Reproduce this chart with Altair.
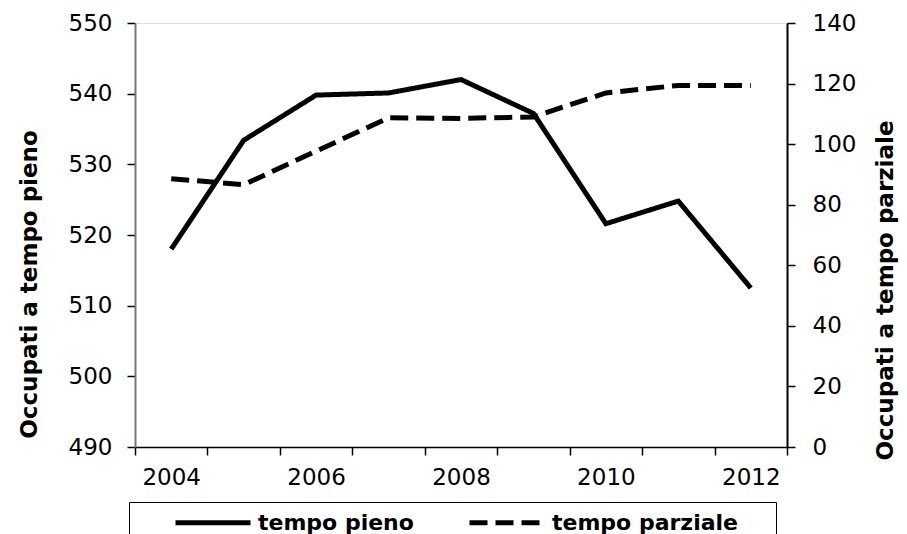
import altair as alt
import pandas as pd

years = ["2004", "2005", "2006", "2007", "2008", "2009", "2010", "2011", "2012"]
tempo_pieno = [518.0, 533.4, 539.8, 540.1, 542.0, 537.2, 521.6, 524.8, 512.5]
tempo_parziale = [88.6, 86.6, 97.7, 108.7, 108.5, 109.0, 116.9, 119.4, 119.4]
series_names = ["tempo pieno", "tempo parziale"]

df_pieno = pd.DataFrame({"year": years, "value": tempo_pieno, "serie": series_names[0]})
df_parz = pd.DataFrame({"year": years, "value": tempo_parziale, "serie": series_names[1]})

FONT = "DejaVu Sans"

x_enc = alt.X(
    "year:O",
    sort=years,
    scale=alt.Scale(paddingInner=0, paddingOuter=0),
    axis=alt.Axis(
        title=None,
        tickBand="extent",
        labelExpr="toNumber(datum.value) % 2 == 0 ? datum.value : ''",
        labelAngle=0,
        labelFontSize=23,
        labelFont=FONT,
        labelColor="black",
        labelPadding=11,
        tickSize=8,
        tickColor="black",
        tickWidth=1.5,
        domainColor="black",
        domainWidth=1.5,
    ),
)

dash_scale = alt.Scale(domain=series_names, range=[[1, 0], [18, 8]])

legend = alt.Legend(
    title=" ",
    titleOrient="right",
    titlePadding=30,
    titleFontSize=22,
    orient="none",
    legendX=-6,
    legendY=479,
    direction="horizontal",
    symbolType="M2.6,0L10.1,0",
    symbolSize=400,
    symbolStrokeWidth=5,
    symbolStrokeColor="black",
    labelFont=FONT,
    labelFontSize=22,
    labelFontWeight="bold",
    labelColor="black",
    labelOffset=96,
    labelLimit=400,
    columnPadding=17,
    padding=8,
    strokeColor="black",
    fillColor="white",
)

pieno = alt.Chart(df_pieno).mark_line(strokeWidth=5, color="black").encode(
    x=x_enc,
    y=alt.Y(
        "value:Q",
        scale=alt.Scale(domain=[490, 550], nice=False, zero=False),
        axis=alt.Axis(
            title="Occupati a tempo pieno",
            values=[490, 500, 510, 520, 530, 540, 550],
            orient="left",
            grid=False,
            labelFontSize=23,
            labelFont=FONT,
            labelColor="black",
            labelPadding=15,
            tickSize=8,
            tickColor="black",
            tickWidth=1.5,
            domainColor="#777777",
            domainWidth=2,
            titleFont=FONT,
            titleFontSize=23,
            titleFontWeight="bold",
            titleColor="black",
            titleAngle=270,
            titleAlign="center",
            titleBaseline="alphabetic",
            titleX=-99,
            titleY=261,
        ),
    ),
    strokeDash=alt.StrokeDash("serie:N", scale=dash_scale, legend=legend),
)

parz = alt.Chart(df_parz).mark_line(strokeWidth=5, color="black").encode(
    x=x_enc,
    y=alt.Y(
        "value:Q",
        scale=alt.Scale(domain=[0, 140], nice=False),
        axis=alt.Axis(
            title="Occupati a tempo parziale",
            values=[0, 20, 40, 60, 80, 100, 120, 140],
            orient="right",
            grid=False,
            labelFontSize=23,
            labelFont=FONT,
            labelColor="black",
            labelPadding=17,
            tickSize=8,
            tickColor="black",
            tickWidth=1.5,
            domainColor="black",
            domainWidth=2,
            titleFont=FONT,
            titleFontSize=23,
            titleFontWeight="bold",
            titleColor="black",
            titleAngle=270,
            titleAlign="center",
            titleBaseline="alphabetic",
            titleX=105,
            titleY=267,
        ),
    ),
    strokeDash=alt.StrokeDash("serie:N", scale=dash_scale, legend=legend),
)

chart = (
    alt.layer(pieno, parz)
    .resolve_scale(y="independent")
    .properties(
        width=652,
        height=424,
        autosize=alt.AutoSizeParams(type="none"),
        padding={"left": 127, "top": 15, "right": 112, "bottom": 90},
    )
    .configure_view(stroke="#888888", strokeWidth=2)
    .configure(background="white")
)

chart.save("out.html", embed_options={"renderer": "svg", "actions": False})
